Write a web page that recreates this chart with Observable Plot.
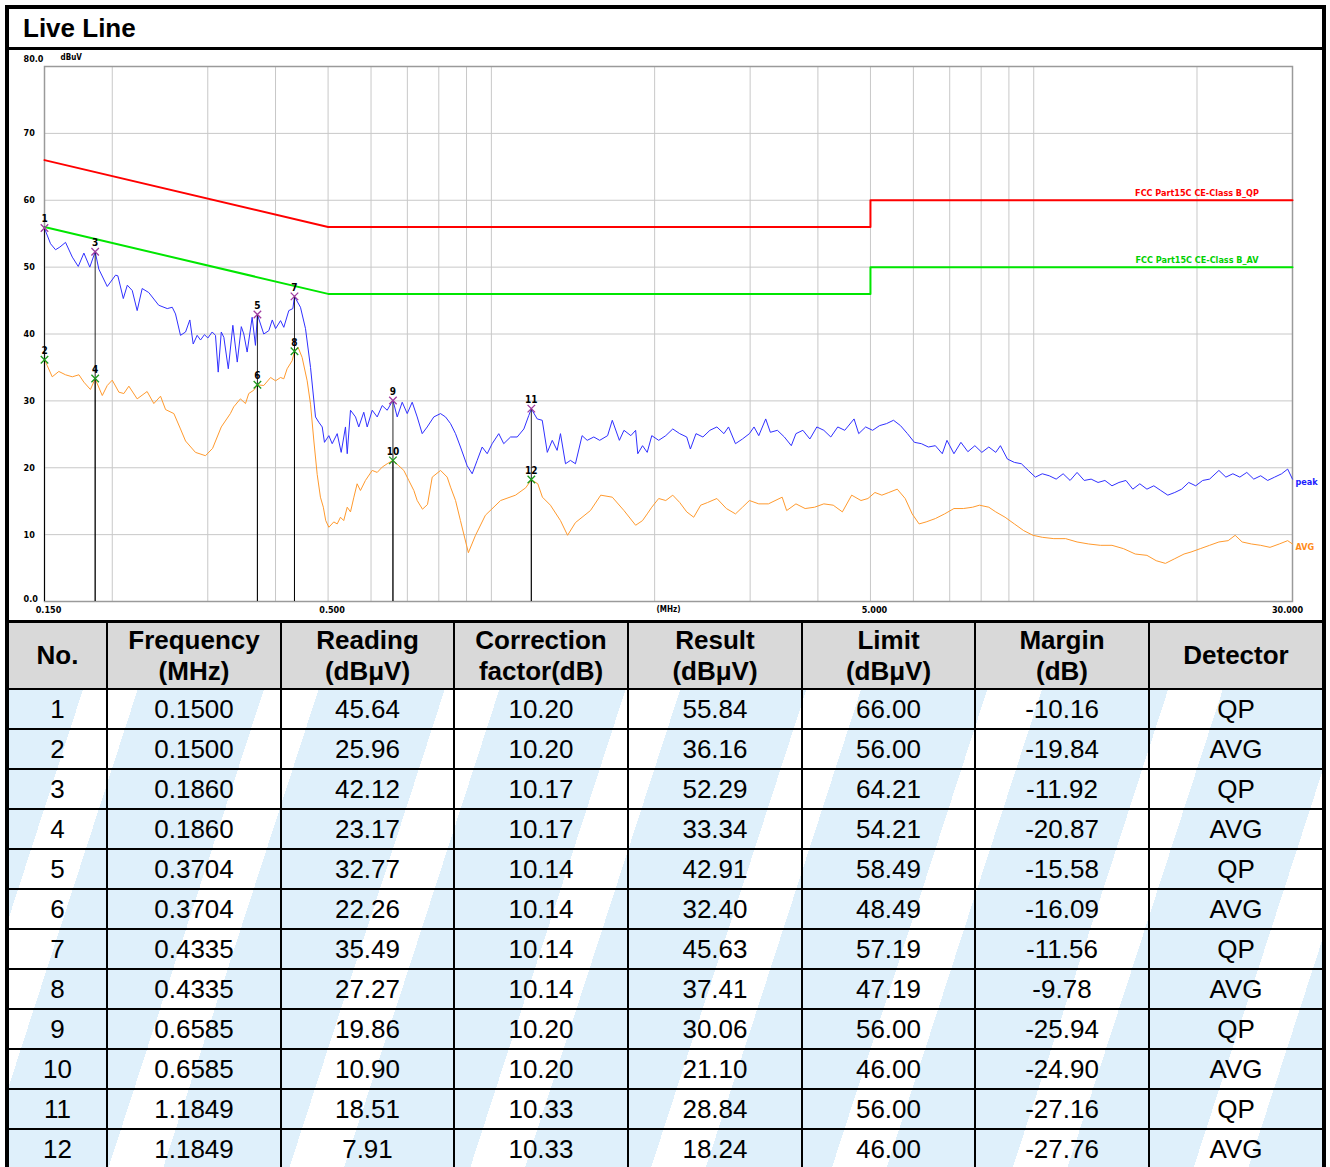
<!DOCTYPE html>
<html><head><meta charset="utf-8">
<script src="https://cdn.jsdelivr.net/npm/d3@7"></script>
<script src="https://cdn.jsdelivr.net/npm/@observablehq/plot@0.6"></script>
<style>
html,body{margin:0;padding:0;background:#fff;width:1330px;height:1167px;overflow:hidden;font-family:"Liberation Sans",Arial,sans-serif;}
#frame{position:absolute;left:5px;top:5px;width:1313px;height:1300px;border:4px solid #000;background:#fff;}
#title{position:absolute;left:0;top:0;width:1313px;height:41px;border-bottom:3px solid #000;box-sizing:border-box;font-weight:bold;font-size:26px;line-height:38px;padding-left:14px;}
#chart{position:absolute;left:0;top:41px;width:1313px;height:570px;}
#grid{position:absolute;left:0;top:611px;width:1313px;border-top:3px solid #000;background:#000;display:grid;
 grid-template-columns:97px 172px 171px 172px 172px 171px 172px 172px;grid-template-rows:65px repeat(12,38px);gap:2px;}
.cell{display:flex;align-items:center;justify-content:center;text-align:center;font-size:26px;color:#000;
 background:repeating-linear-gradient(108deg,#dff0fb 0px,#dff0fb 120px,#ffffff 120px,#ffffff 172px) fixed;}
.head{background:#d9d9d9;font-weight:bold;line-height:31px;}
</style></head>
<body>
<div id="frame">
  <div id="title">Live Line</div>
  <div id="chart"></div>
  <div id="grid"></div>
</div>
<script>
// ---- spectrum traces (MHz, dBuV) ----
const peakFreq = [0.150,0.1539,0.1572,0.1601,0.1640,0.1688,0.1731,0.1773,0.1818,0.1860,0.1889,0.1958,0.2028,0.2048,0.2096,0.2132,0.2177,0.2223,0.2271,0.2335,0.2436,0.2526,0.2580,0.2616,0.2672,0.2730,0.2780,0.2820,0.2868,0.2909,0.2958,0.3001,0.3057,0.3100,0.3136,0.3177,0.3212,0.3273,0.3337,0.3400,0.3459,0.3496,0.3546,0.3622,0.3673,0.3704,0.3805,0.3888,0.3945,0.4001,0.4086,0.4143,0.4232,0.4305,0.4335,0.4447,0.4543,0.4641,0.4740,0.4807,0.4877,0.4924,0.5016,0.5088,0.5197,0.5286,0.5383,0.5423,0.5499,0.5617,0.5696,0.5818,0.5903,0.6030,0.6159,0.6291,0.6426,0.6585,0.6705,0.6849,0.6996,0.7146,0.7299,0.7456,0.7616,0.7832,0.8058,0.8231,0.8408,0.8588,0.8772,0.9024,0.9218,0.9416,0.9618,0.9825,1.0035,1.032,1.054,1.085,1.116,1.148,1.172,1.1849,1.215,1.241,1.268,1.295,1.322,1.341,1.370,1.399,1.429,1.470,1.502,1.545,1.584,1.638,1.671,1.722,1.756,1.808,1.845,1.862,1.900,1.938,1.976,2.035,2.097,2.160,2.225,2.292,2.328,2.384,2.455,2.529,2.605,2.684,2.737,2.819,2.904,2.991,3.050,3.112,3.205,3.269,3.368,3.469,3.573,3.644,3.753,3.866,3.982,4.102,4.225,4.352,4.483,4.664,4.757,4.899,5.046,5.197,5.353,5.514,5.680,5.850,6.026,6.207,6.394,6.586,6.783,6.919,7.127,7.341,7.561,7.789,8.023,8.264,8.511,8.682,8.943,9.211,9.489,9.772,10.07,10.37,10.68,11.00,11.33,11.67,12.02,12.39,12.76,13.14,13.53,13.94,14.36,14.79,15.23,15.69,16.17,16.65,17.15,17.67,18.20,18.74,19.31,19.89,20.49,21.10,21.95,22.61,23.29,23.99,24.71,25.45,26.21,27.00,27.81,28.65,29.39,30.0];
const peakLevel = [55.8,53.5,52.6,53.0,53.7,51.5,50.1,52.1,50.0,52.3,49.7,47.1,48.8,48.7,45.3,47.3,46.5,43.5,46.8,46.2,44.3,43.8,44.0,43.0,39.8,40.3,42.1,38.5,39.8,39.1,39.9,39.4,40.3,39.8,34.3,40.3,39.5,34.8,41.3,35.8,41.1,40.0,37.3,42.5,38.3,42.9,40.0,40.5,42.1,40.8,42.0,41.0,43.5,43.8,45.6,44.0,40.8,35.0,27.6,26.8,26.1,23.8,24.8,23.6,25.1,22.3,26.1,22.1,28.6,27.6,26.1,28.3,26.1,28.6,27.6,29.3,28.6,30.1,27.6,29.8,28.1,29.8,27.6,25.1,26.1,27.6,28.1,27.6,26.6,25.1,23.1,20.3,19.1,21.1,23.1,22.1,23.6,25.1,23.6,24.6,24.6,25.8,27.8,28.8,27.3,27.1,22.3,24.1,22.6,25.1,20.6,21.1,20.6,24.8,24.1,24.6,24.1,24.8,27.1,24.1,25.6,24.8,25.6,22.1,23.3,22.3,24.8,24.1,24.8,25.8,25.1,24.6,22.8,25.1,24.6,25.6,26.1,25.1,26.1,23.6,24.3,25.1,26.1,24.8,27.3,25.3,25.6,24.6,23.3,25.1,25.6,24.3,26.1,25.6,24.6,26.1,25.6,27.3,25.1,26.1,25.6,26.3,26.6,27.1,26.3,25.1,23.8,23.6,23.1,23.3,22.1,24.1,22.1,23.8,22.4,23.3,22.3,23.1,22.3,23.3,21.3,20.8,20.6,19.6,18.6,19.1,18.8,18.3,19.1,18.1,19.3,18.1,18.3,17.8,18.1,17.3,17.8,18.1,16.8,17.6,16.8,17.3,16.6,15.9,16.3,16.8,17.8,17.3,18.1,18.3,19.6,18.6,19.1,18.6,19.3,18.3,18.8,18.1,18.6,19.1,19.8,18.3];
const avgFreq = [0.150,0.1517,0.1550,0.1594,0.1640,0.1688,0.1736,0.1773,0.1823,0.1860,0.1917,0.1958,0.2000,0.2057,0.2101,0.2146,0.2223,0.2319,0.2386,0.2455,0.2508,0.2598,0.2672,0.2730,0.2847,0.2971,0.3062,0.3177,0.3302,0.3349,0.3446,0.3521,0.3570,0.3647,0.3704,0.3805,0.3917,0.4001,0.4086,0.4143,0.4202,0.4292,0.4335,0.4402,0.4478,0.4575,0.4641,0.4707,0.4774,0.4840,0.4900,0.4950,0.5016,0.5122,0.5197,0.5270,0.5343,0.5423,0.5499,0.5575,0.5656,0.5736,0.5859,0.6030,0.6159,0.6291,0.6426,0.6585,0.6750,0.6896,0.7043,0.7196,0.7299,0.7465,0.7625,0.7780,0.8060,0.8290,0.8410,0.8590,0.8770,0.9070,0.9350,0.9750,1.040,1.108,1.157,1.1849,1.218,1.242,1.285,1.341,1.382,1.429,1.523,1.591,1.671,1.756,1.845,1.900,1.938,1.976,2.035,2.097,2.160,2.225,2.292,2.361,2.432,2.504,2.605,2.712,2.819,2.904,2.991,3.112,3.242,3.437,3.503,3.644,3.789,3.944,4.102,4.269,4.438,4.617,4.803,4.947,5.096,5.248,5.406,5.602,5.794,5.969,6.147,6.333,6.586,6.850,7.127,7.416,7.714,7.943,8.264,8.511,8.855,9.211,9.583,9.968,10.37,10.89,11.45,12.02,12.63,13.27,13.94,14.64,15.39,16.17,16.82,17.49,18.20,18.93,19.50,20.28,21.10,21.95,22.83,23.52,24.23,25.20,26.21,27.27,28.36,29.39,30.0];
const avgLevel = [36.2,35.3,33.6,34.4,33.9,33.6,33.9,32.8,31.7,33.3,30.8,32.3,33.1,31.3,31.1,32.2,30.3,31.4,29.6,30.7,28.7,28.1,25.8,24.0,22.3,21.8,22.9,26.1,28.1,29.1,30.3,29.6,31.1,31.6,32.4,32.3,33.5,33.0,33.5,33.3,34.8,36.0,37.4,38.0,36.5,33.0,29.5,24.0,19.0,15.6,14.1,12.1,11.1,11.9,11.6,12.6,12.1,14.1,13.4,15.5,17.6,16.6,18.1,19.6,19.3,20.1,20.6,21.1,20.3,19.6,18.1,16.6,15.1,13.8,14.5,18.6,19.6,18.6,17.1,15.1,12.1,7.3,9.9,12.9,15.1,15.9,17.0,18.2,17.6,15.6,14.4,12.1,9.9,11.8,13.6,15.9,15.6,13.6,11.4,12.1,13.1,14.1,15.4,15.1,15.9,14.8,13.4,12.6,14.4,14.8,15.4,13.9,13.1,14.1,15.1,14.6,14.6,15.6,13.6,14.6,13.9,14.1,14.6,14.4,13.4,15.9,15.1,15.4,16.3,15.9,16.3,16.8,15.4,13.1,11.6,11.9,12.4,13.1,13.9,13.9,14.1,14.4,14.1,13.4,12.6,11.6,10.6,9.9,9.6,9.4,9.4,8.9,8.6,8.4,8.4,7.9,7.1,6.9,6.1,5.7,6.4,7.1,7.4,7.9,8.4,8.9,9.1,9.9,8.9,8.6,8.4,8.1,8.6,9.1,8.6];

// ---- limit lines ----
const limitFreq = [0.15, 0.5, 5, 5, 30];
const qpLimit = [66, 56, 56, 60, 60];
const avLimit = [56, 46, 46, 50, 50];

// ---- axes ----
const xGrid = [0.2,0.3,0.4,0.5,0.6,0.7,0.8,0.9,1,2,3,4,5,6,7,8,9,10,20];
const yGrid = [10,20,30,40,50,60,70];
const yTickValues = [70,60,50,40,30,20,10];
const yTickLabels = ["70","60","50","40","30","20","10"];
const xTickValues = [0.15, 0.5, 5];
const xTickLabels = ["0.150","0.500","5.000"];

// ---- table ----
const colHeaders = ["No.","Frequency<br>(MHz)","Reading<br>(dBμV)","Correction<br>factor(dB)","Result<br>(dBμV)","Limit<br>(dBμV)","Margin<br>(dB)","Detector"];
const markNo = [1,2,3,4,5,6,7,8,9,10,11,12];
const markFreq = ["0.1500","0.1500","0.1860","0.1860","0.3704","0.3704","0.4335","0.4335","0.6585","0.6585","1.1849","1.1849"];
const markReading = ["45.64","25.96","42.12","23.17","32.77","22.26","35.49","27.27","19.86","10.90","18.51","7.91"];
const markCorr = ["10.20","10.20","10.17","10.17","10.14","10.14","10.14","10.14","10.20","10.20","10.33","10.33"];
const markResult = ["55.84","36.16","52.29","33.34","42.91","32.40","45.63","37.41","30.06","21.10","28.84","18.24"];
const markLimit = ["66.00","56.00","64.21","54.21","58.49","48.49","57.19","47.19","56.00","46.00","56.00","46.00"];
const markMargin = ["-10.16","-19.84","-11.92","-20.87","-15.58","-16.09","-11.56","-9.78","-25.94","-24.90","-27.16","-27.76"];
const markDet = ["QP","AVG","QP","AVG","QP","AVG","QP","AVG","QP","AVG","QP","AVG"];

const peak = peakFreq.map((f,i)=>({f, v: peakLevel[i]}));
const avg = avgFreq.map((f,i)=>({f, v: avgLevel[i]}));
const qp = limitFreq.map((f,i)=>({f, v: qpLimit[i]}));
const av = limitFreq.map((f,i)=>({f, v: avLimit[i]}));
const markers = markNo.map((n,i)=>({no: String(n), f: +markFreq[i], v: +markResult[i], det: markDet[i]}));
const yTicks = yTickValues.map((v,i)=>({v, t: yTickLabels[i]}));
const xTicks = xTickValues.map((f,i)=>({f, t: xTickLabels[i]}));
const small = {fontSize: 9, fontWeight: "bold", fontFamily: "'Liberation Sans Narrow','DejaVu Sans Condensed','Liberation Sans',Arial"};

const chart = Plot.plot({
  width: 1313, height: 570,
  marginLeft: 35, marginRight: 30, marginTop: 16, marginBottom: 19,
  x: {type: "log", domain: [0.15, 30], axis: null},
  y: {domain: [0, 80], axis: null},
  style: {background: "white", fontFamily: "'Liberation Sans',Arial,sans-serif", overflow: "visible"},
  marks: [
    Plot.ruleX(xGrid, {stroke: "#c8c8c8", strokeWidth: 1}),
    Plot.ruleY(yGrid, {stroke: "#c8c8c8", strokeWidth: 1}),
    Plot.frame({stroke: "#9a9a9a", strokeWidth: 1.5}),
    Plot.line(qp, {x: "f", y: "v", stroke: "#ff0000", strokeWidth: 2}),
    Plot.line(av, {x: "f", y: "v", stroke: "#00e600", strokeWidth: 2}),
    Plot.line(avg, {x: "f", y: "v", stroke: "#ff9a2e", strokeWidth: 1}),
    Plot.line(peak, {x: "f", y: "v", stroke: "#3030ff", strokeWidth: 1}),
    Plot.ruleX(markers, {x: "f", y1: 0, y2: "v", stroke: "#000", strokeWidth: 1, strokeOpacity: 0.85}),
    Plot.dot(markers, {x: "f", y: "v", symbol: "times", r: 3.5, strokeWidth: 1.3, stroke: d => d.det === "QP" ? "#a03ca0" : "#1c9a1c"}),
    Plot.text(markers, {x: "f", y: "v", text: "no", dy: -9, fill: "#000", ...small, fontSize: 10}),
    // y tick labels
    Plot.text(yTicks, {x: () => 0.15, y: "v", text: "t", dx: -21, textAnchor: "start", fill: "#000", ...small}),
    Plot.text(["80.0"], {x: () => 0.15, y: () => 80, text: d => d, dx: -21, dy: -7, textAnchor: "start", fill: "#000", ...small}),
    Plot.text(["0.0"], {x: () => 0.15, y: () => 0, text: d => d, dx: -21, dy: -2, textAnchor: "start", fill: "#000", ...small}),
    Plot.text(["dBuV"], {x: () => 0.15, y: () => 80, text: d => d, dx: 16, dy: -9, textAnchor: "start", fill: "#000", ...small, fontSize: 8}),
    // x tick labels
    Plot.text(xTicks, {x: "f", y: () => 0, text: "t", dx: 4, dy: 9, fill: "#000", ...small}),
    Plot.text(["30.000"], {x: () => 30, y: () => 0, text: d => d, dx: -5, dy: 9, fill: "#000", ...small}),
    Plot.text(["(MHz)"], {x: () => Math.sqrt(0.15 * 30), y: () => 0, text: d => d, dy: 8, fill: "#000", ...small, fontSize: 8}),
    // limit line labels
    Plot.text(["FCC Part15C CE-Class B_QP"], {x: () => 20, y: () => qpLimit[qpLimit.length - 1], text: d => d, dy: -7, fill: "#ff0000", ...small}),
    Plot.text(["FCC Part15C CE-Class B_AV"], {x: () => 20, y: () => avLimit[avLimit.length - 1], text: d => d, dy: -7, fill: "#00d000", ...small}),
    // trace labels
    Plot.text(["peak"], {x: () => 30, y: () => peakLevel[peakLevel.length - 1], text: d => d, dx: 3, dy: 3, textAnchor: "start", fill: "#2020ff", ...small}),
    Plot.text(["AVG"], {x: () => 30, y: () => avgLevel[avgLevel.length - 1], text: d => d, dx: 3, dy: 3, textAnchor: "start", fill: "#ff8c1a", ...small})
  ]
});
document.getElementById("chart").appendChild(chart);

// ---- table ----
const grid = document.getElementById("grid");
colHeaders.forEach(h => {
  const c = document.createElement("div");
  c.className = "cell head";
  c.innerHTML = h;
  grid.appendChild(c);
});
markNo.forEach((n, i) => {
  [String(n), markFreq[i], markReading[i], markCorr[i], markResult[i], markLimit[i], markMargin[i], markDet[i]].forEach(v => {
    const c = document.createElement("div");
    c.className = "cell";
    c.textContent = v;
    grid.appendChild(c);
  });
});
</script>
</body></html>
